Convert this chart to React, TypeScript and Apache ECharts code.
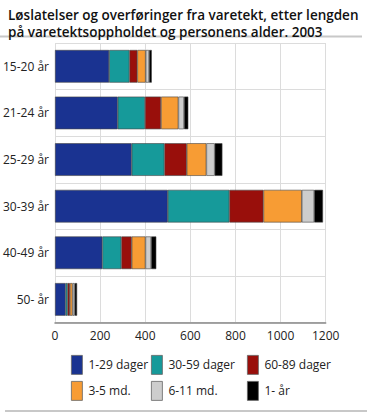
import React, { useEffect, useRef } from "react";
import * as echarts from "echarts";

const categories = ["15-20 år", "21-24 år", "25-29 år", "30-39 år", "40-49 år", "50- år"];
const seriesNames = ["1-29 dager", "30-59 dager", "60-89 dager", "3-5 md.", "6-11 md.", "1- år"];
const d1_29 = [240, 278, 340, 500, 210, 47];
const d30_59 = [90, 121, 145, 273, 84, 9];
const d60_89 = [35, 71, 99, 151, 46, 10];
const m3_5 = [37, 77, 87, 170, 61, 12];
const m6_11 = [15, 25, 37, 55, 25, 9];
const y1 = [12, 19, 34, 39, 23, 11];
const colors = ["#1a3391", "#169a9a", "#990f0b", "#f79c34", "#cdcdcd", "#000000"];
const xTicks = [0, 200, 400, 600, 800, 1000, 1200];

const FONT = "'Open Sans', 'DejaVu Sans', sans-serif";

export default function App() {
  const ref = useRef<HTMLDivElement>(null);
  useEffect(() => {
    const chart = echarts.init(ref.current!, null, { renderer: "svg" });
    const values = [d1_29, d30_59, d60_89, m3_5, m6_11, y1];
    const legendPos = [
      { left: 71, top: 355 },
      { left: 151, top: 355 },
      { left: 247, top: 355 },
      { left: 71, top: 381 },
      { left: 151, top: 381 },
      { left: 247, top: 381 },
    ];
    chart.setOption({
      animation: false,
      textStyle: { fontFamily: FONT },
      title: {
        text: "Løslatelser og overføringer fra varetekt, etter lengden\npå varetektsoppholdet og personens alder. 2003",
        left: 3,
        top: 1,
        textStyle: { fontFamily: FONT, fontSize: 13.5, fontWeight: 600, color: "#111", lineHeight: 17 },
      },
      graphic: [
        { type: "rect", shape: { x: 0, y: 35.5, width: 362, height: 2 }, style: { fill: "#c8c8c8" } },
        { type: "rect", shape: { x: 5, y: 410, width: 362, height: 2 }, style: { fill: "#c8c8c8" } },
      ],
      legend: seriesNames.map((n, i) => ({
        data: [n],
        left: legendPos[i].left,
        top: legendPos[i].top,
        itemWidth: 11,
        itemHeight: 19,
        itemGap: 6,
        icon: "rect",
        padding: 0,
        selectedMode: false,
        itemStyle: { borderColor: "#666", borderWidth: 0.8 },
        textStyle: { fontFamily: FONT, fontSize: 12, color: "#222", padding: [0, 0, 0, 1] },
      })),
      grid: { left: 55, right: 41.3, top: 43, bottom: 89.3, containLabel: false },
      xAxis: {
        type: "value",
        min: 0,
        max: 1200,
        interval: 200,
        axisLine: { show: true, lineStyle: { color: "#888", width: 1.5 } },
        axisTick: { show: false },
        axisLabel: {
          fontFamily: FONT,
          fontSize: 12,
          color: "#222",
          margin: 7,
          formatter: (v: number) => (xTicks.includes(v) ? String(v) : ""),
        },
        splitLine: { show: true, lineStyle: { color: "#dcdcdc", width: 1 } },
      },
      yAxis: {
        type: "category",
        data: categories,
        inverse: true,
        axisLine: { show: false },
        axisTick: { show: false },
        axisLabel: { fontFamily: FONT, fontSize: 12, color: "#222", margin: 6 },
        splitLine: { show: true, lineStyle: { color: "#dcdcdc", width: 1 } },
      },
      series: seriesNames.map((n, i) => ({
        name: n,
        type: "bar",
        stack: "total",
        data: values[i],
        barWidth: "70%",
        itemStyle: { color: colors[i], borderColor: "#444", borderWidth: 0.6 },
      })),
    });
    return () => chart.dispose();
  }, []);
  return (
    <div
      ref={ref}
      style={{ position: "fixed", left: 0, top: 0, width: 367, height: 412, background: "#fff" }}
    />
  );
}
